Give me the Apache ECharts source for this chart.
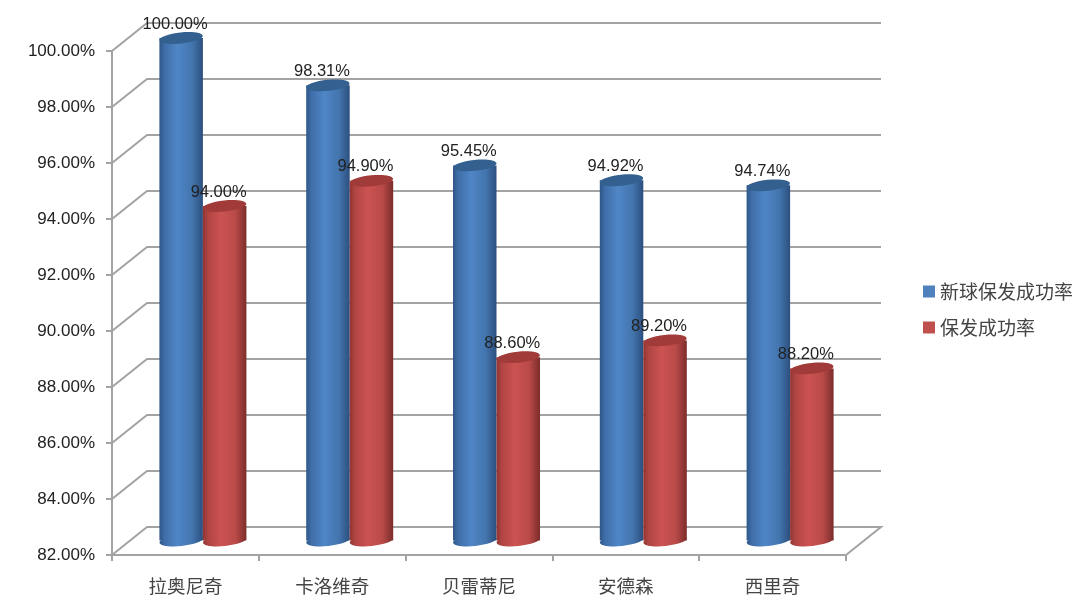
<!DOCTYPE html>
<html><head><meta charset="utf-8">
<style>html,body{margin:0;padding:0;background:#fff}#c{width:1080px;height:611px}</style>
<script src="https://cdn.jsdelivr.net/npm/echarts@6/dist/echarts.min.js"></script>
</head><body><div id="c"></div>
<script>
const categories = ['拉奥尼奇','卡洛维奇','贝雷蒂尼','安德森','西里奇'];
const newBallServe = [100.00, 98.31, 95.45, 94.92, 94.74];
const serveRate = [94.00, 94.90, 88.60, 89.20, 88.20];
const yTicks = [82,84,86,88,90,92,94,96,98,100];
const seriesNames = ['新球保发成功率','保发成功率'];

const DX = 35, DY = 28;
const BAR_W = 43.5, RY = 5.5, TILT = 0.1;
const LINE = '#a3a3a3';
const chart = echarts.init(document.getElementById('c'));

function grad(stops){
  return new echarts.graphic.LinearGradient(0,0,1,0,stops.map((c,i)=>({offset:c[0],color:c[1]})));
}
const styles = [
  {side:[[0,'#2f5688'],[0.12,'#3f6ea8'],[0.42,'#4f86c6'],[0.75,'#4375ae'],[1,'#2c4f7e']], top:'#33608f', mark:'#4f81bd', sign:-1},
  {side:[[0,'#8e3533'],[0.12,'#b04543'],[0.42,'#cb5352'],[0.75,'#b94a48'],[1,'#7b2d2b']], top:'#a03b39', mark:'#c0504d', sign:1}
];

function cylinder(idx){
  const st = styles[idx];
  return function(params, api){
    const i = api.value(0), v = api.value(1);
    const front = api.coord([i, v]);
    const base = api.coord([i, 82]);
    const cx = front[0] + DX/2 + st.sign*BAR_W/2;
    const topY = front[1] - 13;
    const botY = base[1] - 14.5;
    const fill = grad(st.side);
    return {type:'group', children:[
      {type:'ellipse', rotation:TILT, originX:cx, originY:botY, shape:{cx:cx, cy:botY, rx:BAR_W/2, ry:RY}, style:{fill:fill}},
      {type:'rect', shape:{x:cx-BAR_W/2, y:topY, width:BAR_W, height:botY-topY}, style:{fill:fill}},
      {type:'ellipse', rotation:TILT, originX:cx, originY:topY, shape:{cx:cx, cy:topY, rx:BAR_W/2, ry:RY}, style:{fill:st.top}},
      {type:'text', z2:50, style:{text:v.toFixed(2)+'%', x:cx-6, y:topY-14, align:'center', verticalAlign:'middle',
        fill:'#222', font:'16.5px "Liberation Sans", sans-serif'}}
    ]};
  };
}

function walls(params, api){
  const v = api.value(1);
  const band = api.size([1,0])[0];
  const l = api.coord([0, v]);
  const r = api.coord([categories.length-1, v]);
  const fl = l[0]-band/2, fr = r[0]+band/2, y = l[1];
  const pts = [[fl,y],[fl+DX,y-DY],[fr+DX,y-DY]];
  if (v === yTicks[0]) pts.push([fr,y]);
  return {type:'polyline', shape:{points:pts}, style:{stroke:LINE, lineWidth:2, fill:null}};
}

chart.setOption({
  animation:false,
  backgroundColor:'#fff',
  grid:{left:112, right:234, top:51, bottom:56},
  legend:{
    data:seriesNames, orient:'vertical', left:918, top:277, itemWidth:12, itemHeight:12, itemGap:17,
    icon:'rect', textStyle:{fontSize:19, color:'#444', fontFamily:'"Noto Sans CJK SC", sans-serif'}
  },
  xAxis:{
    type:'category', data:categories,
    axisLine:{lineStyle:{color:LINE, width:2}},
    axisTick:{show:true, length:6, lineStyle:{color:LINE, width:2}},
    axisLabel:{margin:22, fontSize:18.5, color:'#444', fontFamily:'"Noto Sans CJK SC", sans-serif'}
  },
  yAxis:{
    type:'value', min:82, max:100, interval:2,
    splitLine:{show:false},
    axisLine:{show:true, lineStyle:{color:LINE, width:2}},
    axisTick:{show:true, length:6, lineStyle:{color:LINE, width:2}},
    axisLabel:{margin:17, fontSize:17, color:'#222', fontFamily:'"Liberation Sans", sans-serif',
      formatter:v=>v.toFixed(2)+'%'}
  },
  series:[
    {type:'custom', name:'walls', silent:true, z:1, renderItem:walls, encode:{x:0,y:1},
     data:yTicks.map(v=>[0,v]), clip:false},
    {type:'custom', name:seriesNames[0], z:3, renderItem:cylinder(0), encode:{x:0,y:1},
     itemStyle:{color:styles[0].mark}, data:newBallServe.map((v,i)=>[i,v]), clip:false},
    {type:'custom', name:seriesNames[1], z:4, renderItem:cylinder(1), encode:{x:0,y:1},
     itemStyle:{color:styles[1].mark}, data:serveRate.map((v,i)=>[i,v]), clip:false}
  ]
});
</script></body></html>
